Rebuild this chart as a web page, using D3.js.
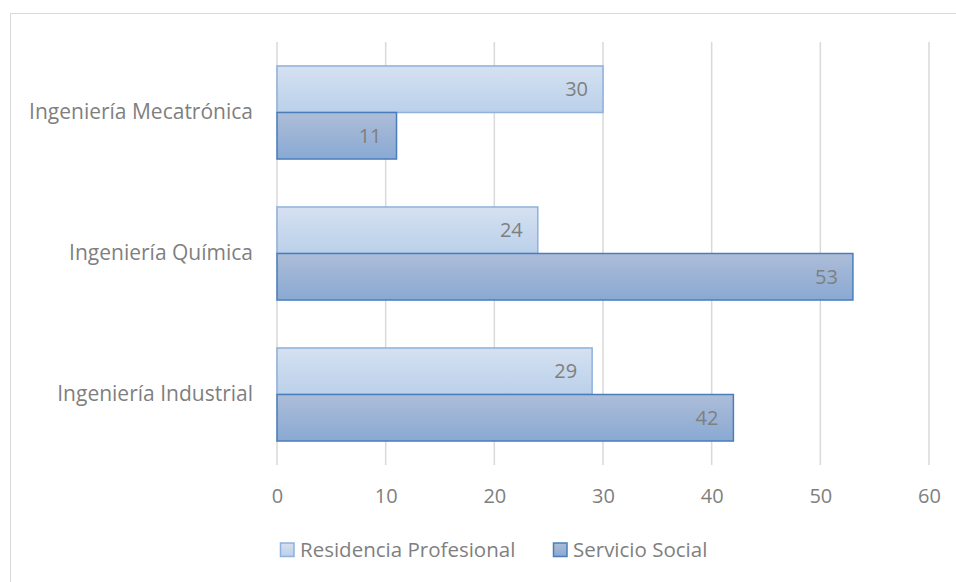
<!DOCTYPE html>
<html>
<head>
<meta charset="utf-8">
<script src="https://cdn.jsdelivr.net/npm/d3@7"></script>
<style>
  body { margin: 0; background: #fff; }
  text { font-family: "Open Sans", "Noto Sans", sans-serif; fill: #7f7f7f; }
</style>
</head>
<body>
<div class="chart"></div>
<script>
// Data (bottom to top as in the original)
var categories = ["Ingeniería Industrial", "Ingeniería Química", "Ingeniería Mecatrónica"];
var seriesNames = ["Residencia Profesional", "Servicio Social"];
var residencia = [29, 24, 30];
var servicio = [42, 53, 11];
var xTicks = [0, 10, 20, 30, 40, 50, 60];

var svgWidth = 956, svgHeight = 582;
var margin = { top: 42, left: 277, right: 27, bottom: 117 };
var width = svgWidth - margin.left - margin.right;
var height = svgHeight - margin.top - margin.bottom;

var svg = d3.select(".chart").append("svg")
  .attr("width", svgWidth)
  .attr("height", svgHeight);

// gradients
var defs = svg.append("defs");
function addGrad(id, c1, c2) {
  var g = defs.append("linearGradient").attr("id", id)
    .attr("x1", 0).attr("y1", 0).attr("x2", 0).attr("y2", 1);
  g.append("stop").attr("offset", "0%").attr("stop-color", c1);
  g.append("stop").attr("offset", "100%").attr("stop-color", c2);
}
addGrad("gradRes", "#d5e1f1", "#bad0ea");
addGrad("gradSer", "#adbdd8", "#89a9d3");

var fills = ["url(#gradRes)", "url(#gradSer)"];
var strokes = ["#8fb1dc", "#4a7ebb"];

// chart frame
svg.append("rect")
  .attr("x", 10.5).attr("y", 13.5)
  .attr("width", 960).attr("height", 600)
  .attr("fill", "none")
  .attr("stroke", "#d9d9d9")
  .attr("stroke-width", 1);

var chartGroup = svg.append("g")
  .attr("transform", `translate(${margin.left}, ${margin.top})`);

var xScale = d3.scaleLinear().domain([0, 60]).range([0, 652]);
var yScale = d3.scaleBand()
  .domain(categories.slice().reverse())
  .range([0, height])
  .paddingInner(0.34)
  .paddingOuter(0.17);
var inner = d3.scaleBand().domain([0, 1]).range([0, yScale.bandwidth()]);

// gridlines
chartGroup.selectAll(".grid")
  .data(xTicks)
  .enter()
  .append("line")
  .attr("x1", d => xScale(d))
  .attr("x2", d => xScale(d))
  .attr("y1", 0)
  .attr("y2", height)
  .attr("stroke", "#d9d9d9")
  .attr("stroke-width", 1.5);

// x axis labels
var bottomAxis = d3.axisBottom(xScale).tickValues(xTicks).tickSize(0).tickPadding(24);
var xAxisG = chartGroup.append("g")
  .attr("transform", `translate(0, ${height})`)
  .call(bottomAxis);
xAxisG.select(".domain").remove();
xAxisG.selectAll("text")
  .style("font-size", "20px")
  .style("font-family", "'Open Sans', sans-serif")
  .attr("fill", "#7f7f7f");

// y axis labels
var leftAxis = d3.axisLeft(yScale).tickSize(0).tickPadding(24);
var yAxisG = chartGroup.append("g").call(leftAxis);
yAxisG.select(".domain").remove();
yAxisG.selectAll("text")
  .style("font-size", "21px")
  .style("font-family", "'Open Sans', sans-serif")
  .attr("fill", "#7f7f7f");

// bars
var rows = categories.map((c, i) => ({ cat: c, vals: [residencia[i], servicio[i]] }));
var groups = chartGroup.selectAll(".grp")
  .data(rows)
  .enter()
  .append("g")
  .attr("transform", d => `translate(0, ${yScale(d.cat)})`);

groups.selectAll("rect")
  .data(d => d.vals.map((v, k) => ({ v: v, k: k })))
  .enter()
  .append("rect")
  .attr("x", xScale(0))
  .attr("y", d => inner(d.k))
  .attr("width", d => xScale(d.v) - xScale(0))
  .attr("height", inner.bandwidth())
  .attr("fill", d => fills[d.k])
  .attr("stroke", d => strokes[d.k])
  .attr("stroke-width", 1.5);

groups.selectAll(".val")
  .data(d => d.vals.map((v, k) => ({ v: v, k: k })))
  .enter()
  .append("text")
  .attr("class", "val")
  .attr("x", d => xScale(d.v) - 15)
  .attr("y", d => inner(d.k) + inner.bandwidth() / 2)
  .attr("dy", "0.35em")
  .attr("text-anchor", "end")
  .style("font-size", "20px")
  .text(d => d.v);

// legend
var legend = svg.append("g").attr("transform", "translate(280, 550)");
var legX = [0, 273];
seriesNames.forEach((name, k) => {
  var lg = legend.append("g").attr("transform", `translate(${legX[k]}, 0)`);
  lg.append("rect")
    .attr("x", 0.5).attr("y", -7)
    .attr("width", 13.5).attr("height", 13.5)
    .attr("fill", fills[k])
    .attr("stroke", strokes[k])
    .attr("stroke-width", 1.5);
  lg.append("text")
    .attr("x", 20)
    .attr("y", 0)
    .attr("dy", "0.35em")
    .style("font-size", "20.5px")
    .text(name);
});
</script>
</body>
</html>
